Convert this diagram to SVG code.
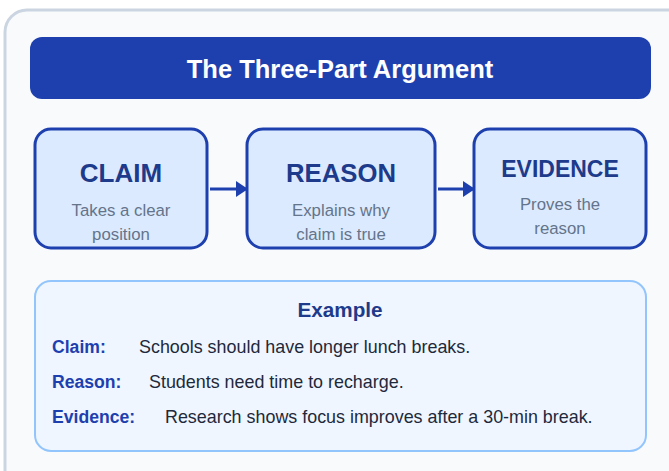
<svg xmlns="http://www.w3.org/2000/svg" width="669" height="471" viewBox="0 0 669 471">
<defs>
<style>
.t{font-family:"Liberation Sans",Arial,sans-serif}
.box{fill:#dbeafe;stroke:#1e40af;stroke-width:3}
.h{font-weight:bold;fill:#1e3a8a;text-anchor:middle}
.s{font-size:16.8px;fill:#64748b;text-anchor:middle}
.lab{font-size:17.6px;font-weight:bold;fill:#1e40af}
.val{font-size:17.9px;fill:#1e293b}
.conn{stroke:#1e40af;stroke-width:3;fill:none}
</style>
<marker id="ah" markerWidth="12" markerHeight="16" refX="11" refY="8" orient="auto" markerUnits="userSpaceOnUse" viewBox="0 0 12 16">
<path d="M0,0 L12,8 L0,16 z" fill="#1e40af"/>
</marker>
</defs>
<rect x="5" y="10" width="690" height="490" rx="22" fill="#f8fafc" stroke="#cbd5e1" stroke-width="3"/>
<g id="title">
<rect x="30" y="37" width="621" height="62" rx="12" fill="#1e40af"/>
<text class="t" x="340" y="78" font-size="25.5" font-weight="bold" fill="#ffffff" text-anchor="middle">The Three-Part Argument</text>
</g>
<g id="claim">
<rect class="box" x="35" y="129" width="172" height="119" rx="16"/>
<text class="t h" x="121" y="182" font-size="26">CLAIM</text>
<text class="t s" x="121" y="216">Takes a clear</text>
<text class="t s" x="121" y="240">position</text>
</g>
<g id="reason">
<rect class="box" x="247" y="129" width="188" height="119" rx="16"/>
<text class="t h" x="341" y="182" font-size="25.7">REASON</text>
<text class="t s" x="341" y="216">Explains why</text>
<text class="t s" x="341" y="240">claim is true</text>
</g>
<g id="evidence">
<rect class="box" x="474" y="129" width="172" height="119" rx="16"/>
<text class="t h" x="560" y="177" font-size="23">EVIDENCE</text>
<text class="t s" x="560" y="210">Proves the</text>
<text class="t s" x="560" y="234">reason</text>
</g>
<g id="connectors">
<line class="conn" x1="210" y1="189" x2="247" y2="189" marker-end="url(#ah)"/>
<line class="conn" x1="438" y1="189" x2="474" y2="189" marker-end="url(#ah)"/>
</g>
<g id="example">
<rect x="35" y="281" width="611" height="170" rx="16" fill="#eff6ff" stroke="#93c5fd" stroke-width="2"/>
<text class="t" x="340" y="317" font-size="20.7" font-weight="bold" fill="#1e3a8a" text-anchor="middle">Example</text>
<text class="t lab" x="52" y="353">Claim:</text>
<text class="t val" x="139" y="353">Schools should have longer lunch breaks.</text>
<text class="t lab" x="52" y="388">Reason:</text>
<text class="t val" x="149" y="388">Students need time to recharge.</text>
<text class="t lab" x="52" y="423">Evidence:</text>
<text class="t val" x="165" y="423">Research shows focus improves after a 30-min break.</text>
</g>
</svg>
